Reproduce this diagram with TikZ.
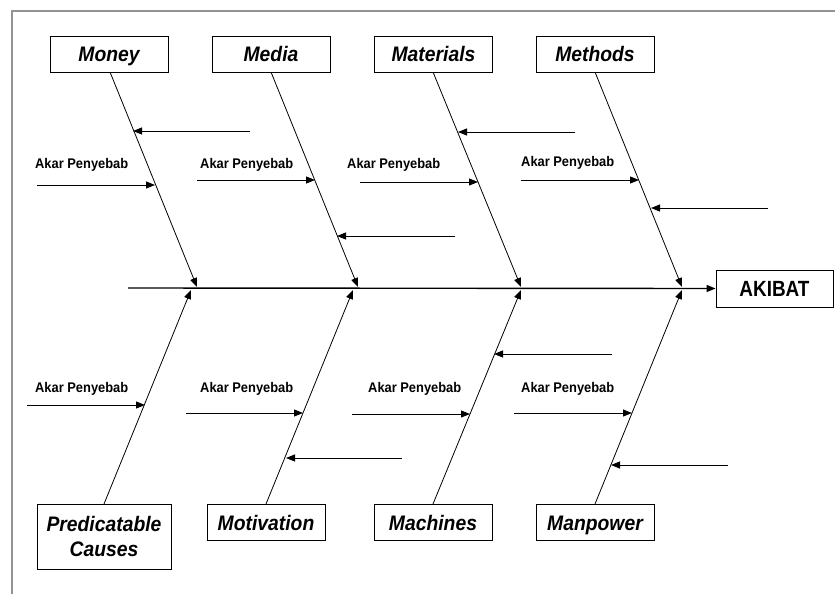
\documentclass[tikz,border=0pt]{standalone}
\usepackage{fontspec}
\setmainfont{Liberation Sans}
\newfontfamily\catfont[FakeStretch=0.92]{Liberation Sans}
\newfontfamily\efffont[FakeStretch=0.86]{Liberation Sans}
\usetikzlibrary{arrows.meta}
\begin{document}
\begin{tikzpicture}[x=1pt,y=-1pt,
  catbox/.style={draw=black,line width=0.9pt,minimum width=118pt,minimum height=36pt,inner sep=0pt,
    text height=15pt,text depth=0pt,
    font=\catfont\fontsize{21}{26}\selectfont\bfseries\itshape,align=center},
  twobox/.style={draw=black,line width=0.9pt,minimum width=134pt,minimum height=65pt,inner sep=0pt,
    font=\catfont\fontsize{21}{26}\selectfont\bfseries\itshape,align=center},
  effbox/.style={draw=black,line width=0.9pt,minimum width=117pt,minimum height=37pt,inner sep=0pt,
    text height=15pt,text depth=0pt,
    font=\efffont\fontsize{22}{24}\selectfont\bfseries},
  rootlbl/.style={anchor=base west,inner sep=0pt,font=\catfont\fontsize{14}{16}\selectfont\bfseries},
  bone/.style={line width=0.8pt,-{Triangle[length=9pt,width=7pt]}},
  spine/.style={line width=1.4pt,-{Triangle[length=9pt,width=7pt]}},
  twig/.style={line width=0.9pt,-{Triangle[length=9pt,width=7pt]}},
  frame/.style={draw=gray!85,line width=1.5pt}]
\useasboundingbox (0,0) rectangle (835,594);
\draw[frame] (12,594) -- (12,11) -- (835,11);

% category boxes
\node[catbox] (money)  at (109,54)  {Money};
\node[catbox] (media)  at (271,54)  {Media};
\node[catbox] (mater)  at (433.5,54) {Materials};
\node[catbox] (meth)   at (595,54)  {Methods};
\node[twobox] (pred) at (104,536.5) {Predicatable\\[-1.5pt]Causes};
\node[catbox] (motiv)  at (266,522.5) {Motivation};
\node[catbox] (mach)   at (433,522.5) {Machines};
\node[catbox] (manp)   at (595,522.5) {Manpower};
\node[effbox] (akibat) at (774.5,288.5) {AKIBAT};

% spine
\coordinate (s0) at (128,288);
\draw[spine] (s0) -- (akibat.west);

% bone ends on spine
\coordinate (t1) at (197,287);
\coordinate (t2) at (358,287);
\coordinate (t3) at (521,287);
\coordinate (t4) at (682,287);
\coordinate (b1) at (191,290);
\coordinate (b2) at (353,290);
\coordinate (b3) at (521,290);
\coordinate (b4) at (682,290);

\draw[bone] (110,72) -- (t1);
\draw[bone] (271,72) -- (t2);
\draw[bone] (433,72) -- (t3);
\draw[bone] (595,72) -- (t4);
\draw[bone] (104,504) -- (b1);
\draw[bone] (266,504) -- (b2);
\draw[bone] (433,504) -- (b3);
\draw[bone] (595,504) -- (b4);

% labels
\node[rootlbl] (l1) at (35,168) {Akar Penyebab};
\node[rootlbl] (l2) at (200,168) {Akar Penyebab};
\node[rootlbl] (l3) at (347,168) {Akar Penyebab};
\node[rootlbl] (l4) at (521,166) {Akar Penyebab};
\node[rootlbl] (l5) at (35,392) {Akar Penyebab};
\node[rootlbl] (l6) at (200,392) {Akar Penyebab};
\node[rootlbl] (l7) at (368,392) {Akar Penyebab};
\node[rootlbl] (l8) at (521,392) {Akar Penyebab};

% twigs: top
\coordinate (a1s) at (250,131); \coordinate (a1e) at (133,131);
\coordinate (a2s) at (37,185);  \coordinate (a2e) at (155,185);
\coordinate (a3s) at (197,180); \coordinate (a3e) at (315,180);
\coordinate (a4s) at (455,236); \coordinate (a4e) at (337,236);
\coordinate (a5s) at (360,182); \coordinate (a5e) at (478,182);
\coordinate (a6s) at (575,132); \coordinate (a6e) at (458,132);
\coordinate (a7s) at (521,180); \coordinate (a7e) at (639,180);
\coordinate (a8s) at (768,208); \coordinate (a8e) at (651,208);
% twigs: bottom
\coordinate (c1s) at (27,405);  \coordinate (c1e) at (145,405);
\coordinate (c2s) at (186,413); \coordinate (c2e) at (303,413);
\coordinate (c3s) at (402,458); \coordinate (c3e) at (286,458);
\coordinate (c4s) at (352,414); \coordinate (c4e) at (470,414);
\coordinate (c5s) at (612,354); \coordinate (c5e) at (494,354);
\coordinate (c6s) at (514,413); \coordinate (c6e) at (632,413);
\coordinate (c7s) at (728,465); \coordinate (c7e) at (611,465);

\foreach \p in {a1,a2,a3,a4,a5,a6,a7,a8,c1,c2,c3,c4,c5,c6,c7}
  \draw[twig] (\p s) -- (\p e);
\end{tikzpicture}
\end{document}
